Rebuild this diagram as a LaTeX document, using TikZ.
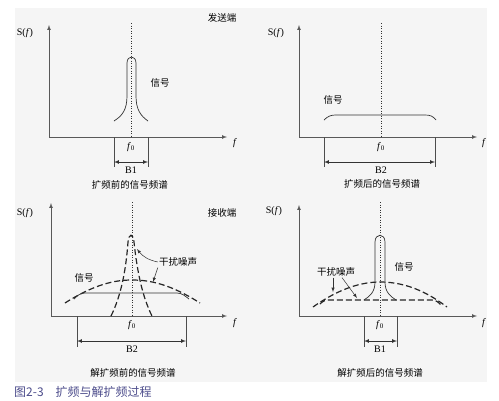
\documentclass[tikz,border=0pt]{standalone}
\usepackage{fontspec}
\setmainfont{Liberation Serif}
\newfontfamily\cjk{Noto Sans CJK SC}
\usetikzlibrary{arrows}

\begin{document}
\begin{tikzpicture}[x=1pt,y=-1pt]
\tikzset{axis/.style = {<->,> = latex,line width=0.7pt,black!65}}
\tikzset{dim/.style = {<->,> = latex,line width=0.7pt,black!80}}
\tikzset{tick/.style = {line width=0.7pt,black!70}}
\tikzset{curve/.style = {line width=0.7pt,black!80}}
\tikzset{noise/.style = {line width=1.2pt,black!85,dash pattern=on 6pt off 3pt}}
\tikzset{centre/.style = {line width=1pt,black!80,dash pattern=on 1pt off 1.5pt}}
\tikzset{lbl/.style = {font=\fontsize{10}{12}\selectfont,inner sep=1pt}}
\tikzset{cn/.style = {font=\cjk\fontsize{9.5}{11}\selectfont,inner sep=1pt}}
\tikzset{pointer/.style = {->,> = latex,line width=0.5pt,black!80}}

% frame
\useasboundingbox (0,0) rectangle (499,400);
\fill[black!4] (15,8) rectangle (487,382);

% panel 1: before spreading
\coordinate (y1) at (49,25);
\coordinate (x1) at (227,137);
\draw[axis] (y1) |- (x1);
\node[lbl] (s1) at (25,33) {S(\textit{f})};
\node[lbl] (f1) at (235,143) {\textit{f}};
\node[cn] (send) at (222,18) {发送端};
\coordinate (c1) at (131,23);
\draw[centre] (c1) -- (c1 |- x1);
\draw[curve] (114,121) .. controls (122,116) and (127,110) .. (127,96) -- (127,63)
  .. controls (127,55) and (136,55) .. (136,63) -- (136,96)
  .. controls (136,110) and (141,116) .. (148,121);
\node[cn] (sig1) at (160,83) {信号};
\node[lbl] (f01) at (131,147) {\textit{f}\textsubscript{0}};
\coordinate (b1l) at (114,137);
\coordinate (b1r) at (148,137);
\draw[tick] (b1l) -- ++(0,30);
\draw[tick] (b1r) -- ++(0,30);
\coordinate (d1l) at (114,162);
\coordinate (d1r) at (148,162);
\draw[dim] (d1l) -- (d1r);
\node[lbl] (bw1) at (131,170) {B1};
\node[cn] (cap1) at (130,185) {扩频前的信号频谱};

% panel 2: after spreading
\coordinate (y2) at (299,25);
\coordinate (x2) at (477,137);
\draw[axis] (y2) |- (x2);
\node[lbl] (s2) at (276,33) {S(\textit{f})};
\node[lbl] (f2) at (484,143) {\textit{f}};
\coordinate (c2) at (381,23);
\draw[centre] (c2) -- (c2 |- x2);
\draw[curve] (324,120) .. controls (328,116) and (331,115) .. (336,115) -- (425,115)
  .. controls (430,115) and (433,116) .. (436,120);
\node[cn] (sig2) at (333,100) {信号};
\node[lbl] (f02) at (381,147) {\textit{f}\textsubscript{0}};
\coordinate (b2l) at (324,137);
\coordinate (b2r) at (435,137);
\draw[tick] (b2l) -- ++(0,30);
\draw[tick] (b2r) -- ++(0,30);
\coordinate (d2l) at (324,162);
\coordinate (d2r) at (435,162);
\draw[dim] (d2l) -- (d2r);
\node[lbl] (bw2) at (381,170) {B2};
\node[cn] (cap2) at (382,184) {扩频后的信号频谱};

% panel 3: before despreading
\coordinate (y3) at (51,203);
\coordinate (x3) at (227,316);
\draw[axis] (y3) |- (x3);
\node[lbl] (s3) at (25,213) {S(\textit{f})};
\node[lbl] (f3) at (235,323) {\textit{f}};
\node[cn] (recv) at (222,213) {接收端};
\coordinate (c3) at (132,202);
\draw[centre] (c3) -- (c3 |- x3);
\draw[noise] (111,316) .. controls (121,296) and (126,270) .. (128,242)
  .. controls (129,233) and (133,233) .. (134,242)
  .. controls (137,270) and (142,296) .. (152,316);
\draw[noise] (65,303) .. controls (95,284) and (115,280) .. (132,280)
  .. controls (150,280) and (170,284) .. (200,303);
\draw[curve] (74,299) .. controls (77,296) and (80,293) .. (85,293) -- (177,293)
  .. controls (182,293) and (185,296) .. (189,299);
\node[cn] (sig3) at (84,278) {信号};
\node[cn] (jam3) at (178,262) {干扰噪声};
\coordinate (j3a) at (137,249);
\coordinate (j3b) at (153,282);
\draw[pointer] (jam3.west) to[bend left=20] (j3a);
\draw[pointer] (jam3.south west) -- (j3b);
\node[lbl] (f03) at (132,325) {\textit{f}\textsubscript{0}};
\coordinate (b3l) at (77,316);
\coordinate (b3r) at (186,316);
\draw[tick] (b3l) -- ++(0,31);
\draw[tick] (b3r) -- ++(0,31);
\coordinate (d3l) at (77,341);
\coordinate (d3r) at (186,341);
\draw[dim] (d3l) -- (d3r);
\node[lbl] (bw3) at (132,349) {B2};
\node[cn] (cap3) at (133,373) {解扩频前的信号频谱};

% panel 4: after despreading
\coordinate (y4) at (299,205);
\coordinate (x4) at (477,316);
\draw[axis] (y4) |- (x4);
\node[lbl] (s4) at (274,211) {S(\textit{f})};
\node[lbl] (f4) at (484,323) {\textit{f}};
\coordinate (c4) at (380,202);
\draw[centre] (c4) -- (c4 |- x4);
\draw[noise] (313,307) .. controls (340,288) and (362,282) .. (380,282)
  .. controls (400,282) and (422,288) .. (447,307);
\draw[noise] (320,304) .. controls (323,301) and (325,300) .. (329,300) -- (432,300)
  .. controls (436,300) and (438,302) .. (441,305);
\draw[curve] (364,300) .. controls (370,296) and (375,292) .. (375,282) -- (375,242)
  .. controls (375,233) and (385,233) .. (385,242) -- (385,282)
  .. controls (385,292) and (390,296) .. (396,300);
\node[cn] (sig4) at (404,267) {信号};
\node[cn] (jam4) at (336,272) {干扰噪声};
\coordinate (j4a) at (333,292);
\coordinate (j4b) at (357,298);
\draw[pointer] ([xshift=-3pt]jam4.south) -- (j4a);
\draw[pointer] ([xshift=6pt]jam4.south) -- (j4b);
\node[lbl] (f04) at (380,325) {\textit{f}\textsubscript{0}};
\coordinate (b4l) at (364,316);
\coordinate (b4r) at (397,316);
\draw[tick] (b4l) -- ++(0,31);
\draw[tick] (b4r) -- ++(0,31);
\coordinate (d4l) at (364,341);
\coordinate (d4r) at (397,341);
\draw[dim] (d4l) -- (d4r);
\node[lbl] (bw4) at (380,349) {B1};
\node[cn] (cap4) at (380,373) {解扩频后的信号频谱};

% figure caption
\node[font=\cjk\fontsize{12}{14}\selectfont,text=blue!35!black!70,anchor=west,inner sep=0pt] (fig) at (14,392) {图2-3\quad 扩频与解扩频过程};
\end{tikzpicture}
\end{document}
